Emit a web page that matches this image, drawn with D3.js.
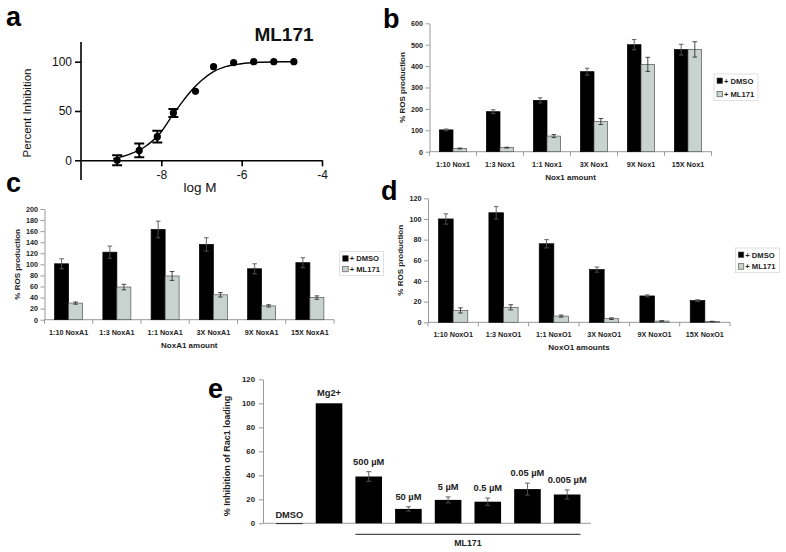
<!DOCTYPE html>
<html>
<head>
<meta charset="utf-8">
<script src="https://cdn.jsdelivr.net/npm/d3@7"></script>
<style>
  body { margin: 0; background: #fff; }
  svg { display: block; font-family: "Liberation Sans", Arial, sans-serif; }
</style>
</head>
<body>
<script>
// panel a: dose response
const logM = [-9.1, -8.55, -8.1, -7.7, -7.15, -6.7, -6.2, -5.7, -5.2, -4.7];
const inhibition = [0, 10, 24, 48, 70, 95, 99, 100, 100, 100];
const inhibitionErr = [5, 7, 6, 4, 0, 0, 0, 0, 0, 0];
const fitLogM = [-9.2, -8.8, -8.4, -8.0, -7.75, -7.5, -7.2, -7.0, -6.7, -6.4, -6.0, -5.5, -5.0, -4.7];
const fitInhib = [1.5, 6, 14, 29, 44, 58, 73, 81, 90, 95, 98, 99.5, 100, 100];
const aTicksX = [-8, -6, -4];
const aTicksY = [0, 50, 100];

// panel b
const nox1Cats = ["1:10 Nox1", "1:3 Nox1", "1:1 Nox1", "3X Nox1", "9X Nox1", "15X Nox1"];
const nox1Dmso = [102, 187, 240, 374, 500, 477];
const nox1DmsoErr = [4, 9, 12, 16, 24, 25];
const nox1Ml = [15, 19, 73, 141, 408, 478];
const nox1MlErr = [2, 2, 7, 14, 33, 36];
const bTicks = [0, 100, 200, 300, 400, 500, 600];

// panel c
const noxa1Cats = ["1:10 NoxA1", "1:3 NoxA1", "1:1 NoxA1", "3X NoxA1", "9X NoxA1", "15X NoxA1"];
const noxa1Dmso = [101, 122, 163, 136, 92, 103];
const noxa1DmsoErr = [9, 11, 15, 12, 9, 9];
const noxa1Ml = [30, 59, 79, 45, 25, 40];
const noxa1MlErr = [2, 5, 8, 4, 2, 3];
const cTicks = [0, 20, 40, 60, 80, 100, 120, 140, 160, 180, 200];

// panel d
const noxo1Cats = ["1:10 NoxO1", "1:3 NoxO1", "1:1 NoxO1", "3X NoxO1", "9X NoxO1", "15X NoxO1"];
const noxo1Dmso = [100, 106, 76, 51, 25.5, 21];
const noxo1DmsoErr = [5, 6, 4, 2.5, 1, 0.8];
const noxo1Ml = [11.5, 14.5, 6, 3.5, 1.2, 0.8];
const noxo1MlErr = [2.5, 2.5, 1, 0.8, 0.3, 0.2];
const dTicks = [0, 20, 40, 60, 80, 100, 120];

// panel e
const racCats = ["DMSO", "Mg2+", "500 µM", "50 µM", "5 µM", "0.5 µM", "0.05 µM", "0.005 µM"];
const racLoad = [0, 100, 39, 12, 19.5, 18, 28.5, 24];
const racErr = [0, 0, 4, 1.8, 2.5, 3, 5, 3.8];
const eTicks = [0, 20, 40, 60, 80, 100, 120];

const legendNames = ["+ DMSO", "+ ML171"];
const barColors = ["#000", "#c8d3d0"];

const svg = d3
  .select("body")
  .append("svg")
  .attr("width", 786)
  .attr("height", 552);

svg.append("rect").attr("width", 786).attr("height", 552).attr("fill", "#fff");

const panelLetter = (txt, x, y) => {
  svg
    .append("text")
    .attr("x", x)
    .attr("y", y)
    .attr("font-size", 27)
    .attr("font-weight", "bold")
    .text(txt);
};

// ---------- panel a ----------
const drawDoseResponse = () => {
  const x = d3.scaleLinear().domain([-10, -4]).range([81, 322]);
  const y = d3.scaleLinear().domain([-20, 120]).range([180, 42]);
  const g = svg.append("g");

  const yAxis = g
    .append("g")
    .attr("transform", `translate(${x(-10)},0)`)
    .call(d3.axisLeft(y).tickValues(aTicksY).tickSize(6).tickPadding(3).tickSizeOuter(0));
  const xAxis = g
    .append("g")
    .attr("transform", `translate(0,${y(0)})`)
    .call(
      d3.axisBottom(x)
        .tickValues(aTicksX)
        .tickFormat((d) => d.toString())
        .tickSize(6)
        .tickPadding(4)
        .tickSizeOuter(0)
    );

  [yAxis, xAxis].forEach((ax) => {
    ax.select(".domain").attr("stroke", "#000").attr("stroke-width", 1.6);
    ax.selectAll(".tick line").attr("stroke", "#000").attr("stroke-width", 1.6);
    ax.selectAll(".tick text")
      .attr("font-size", 12)
      .attr("fill", "#111")
      .attr("font-family", "Liberation Sans, Arial, sans-serif");
  });
  // y axis spans full domain incl. below zero
  yAxis.select(".domain").attr("d", `M0,${y(-20)}V${y(120)}`);

  const line = d3
    .line()
    .x((d, i) => x(fitLogM[i]))
    .y((d) => y(d))
    .curve(d3.curveMonotoneX);
  g.append("path")
    .attr("d", line(fitInhib))
    .attr("fill", "none")
    .attr("stroke", "#000")
    .attr("stroke-width", 1.4);

  logM.forEach((lm, i) => {
    const e = inhibitionErr[i];
    if (e > 0) {
      const cx = x(lm);
      g.append("path")
        .attr(
          "d",
          `M${cx},${y(inhibition[i] - e)}V${y(inhibition[i] + e)}` +
            `M${cx - 5},${y(inhibition[i] - e)}H${cx + 5}` +
            `M${cx - 5},${y(inhibition[i] + e)}H${cx + 5}`
        )
        .attr("stroke", "#000")
        .attr("stroke-width", 2);
    }
  });

  g.selectAll("circle.pt")
    .data(inhibition)
    .enter()
    .append("circle")
    .attr("class", "pt")
    .attr("cx", (d, i) => x(logM[i]))
    .attr("cy", (d) => y(d))
    .attr("r", 3.6)
    .attr("fill", "#000");

  g.append("text")
    .attr("transform", "translate(31,113) rotate(-90)")
    .attr("text-anchor", "middle")
    .attr("font-size", 11.5)
    .attr("fill", "#111")
    .text("Percent Inhibition");
  g.append("text")
    .attr("x", 200)
    .attr("y", 192)
    .attr("text-anchor", "middle")
    .attr("font-size", 13.5)
    .attr("fill", "#111")
    .text("log M");
  g.append("text")
    .attr("x", 284)
    .attr("y", 41)
    .attr("text-anchor", "middle")
    .attr("font-size", 19)
    .attr("font-weight", "bold")
    .attr("fill", "#111")
    .text("ML171");
};

// ---------- grouped bar panels b, c, d ----------
const styleExcelAxis = (ax) => {
  ax.select(".domain").attr("stroke", "#999").attr("stroke-width", 1);
  ax.selectAll(".tick line").attr("stroke", "#999");
  ax.selectAll(".tick text")
    .attr("font-size", 7.2)
    .attr("font-weight", "bold")
    .attr("fill", "#222")
    .attr("font-family", "Liberation Sans, Arial, sans-serif");
};

const errorBar = (g, cx, top, bottom, half, color) => {
  g.append("path")
    .attr("d", `M${cx},${bottom}V${top}M${cx - half},${top}H${cx + half}M${cx - half},${bottom}H${cx + half}`)
    .attr("stroke", color)
    .attr("stroke-width", 0.9)
    .attr("fill", "none");
};

const drawGroupedBars = (cfg) => {
  const g = svg.append("g");
  const x = d3.scaleBand().domain(cfg.cats).range(cfg.xr);
  const y = d3.scaleLinear().domain([0, cfg.ticks[cfg.ticks.length - 1]]).range(cfg.yr);
  const barW = x.bandwidth() * 0.29;

  const yAxis = g
    .append("g")
    .attr("transform", `translate(${cfg.xr[0]},0)`)
    .call(d3.axisLeft(y).tickValues(cfg.ticks).tickSize(4).tickPadding(2.5).tickSizeOuter(0));
  styleExcelAxis(yAxis);

  // category axis with boundary ticks
  g.append("line")
    .attr("x1", cfg.xr[0])
    .attr("x2", cfg.xr[1])
    .attr("y1", y(0))
    .attr("y2", y(0))
    .attr("stroke", "#999");
  d3.range(cfg.cats.length + 1).forEach((i) => {
    const bx = cfg.xr[0] + i * x.step();
    g.append("line")
      .attr("x1", bx)
      .attr("x2", bx)
      .attr("y1", y(0))
      .attr("y2", y(0) + 4)
      .attr("stroke", "#999");
  });

  const series = [
    { vals: cfg.dmso, errs: cfg.dmsoErr },
    { vals: cfg.ml, errs: cfg.mlErr },
  ];
  series.forEach((s, si) => {
    g.selectAll(`rect.s${si}`)
      .data(s.vals)
      .enter()
      .append("rect")
      .attr("class", `s${si}`)
      .attr("x", (d, i) => x(cfg.cats[i]) + x.bandwidth() / 2 - barW + si * barW)
      .attr("y", (d) => y(d))
      .attr("width", barW)
      .attr("height", (d) => y(0) - y(d))
      .attr("fill", barColors[si])
      .attr("stroke", si ? "#555" : "#000")
      .attr("stroke-width", 0.7);
    s.vals.forEach((v, i) => {
      const cx = x(cfg.cats[i]) + x.bandwidth() / 2 - barW / 2 + si * barW;
      errorBar(g, cx, y(v + s.errs[i]), y(v - s.errs[i]), 2.3, si ? "#333" : "#555");
    });
  });

  g.selectAll("text.cat")
    .data(cfg.cats)
    .enter()
    .append("text")
    .attr("class", "cat")
    .attr("x", (d) => x(d) + x.bandwidth() / 2)
    .attr("y", y(0) + 15)
    .attr("text-anchor", "middle")
    .attr("font-size", 7.2)
    .attr("font-weight", "bold")
    .attr("fill", "#222")
    .text((d) => d);

  g.append("text")
    .attr("x", (cfg.xr[0] + cfg.xr[1]) / 2)
    .attr("y", y(0) + 28)
    .attr("text-anchor", "middle")
    .attr("font-size", 8)
    .attr("font-weight", "bold")
    .attr("fill", "#222")
    .text(cfg.xTitle);

  g.append("text")
    .attr("transform", `translate(${cfg.xr[0] - 25},${(cfg.yr[0] + cfg.yr[1]) / 2}) rotate(-90)`)
    .attr("text-anchor", "middle")
    .attr("font-size", 8)
    .attr("font-weight", "bold")
    .attr("fill", "#222")
    .text("% ROS production");

  // legend
  const lg = g.append("g").attr("transform", `translate(${cfg.legend[0]},${cfg.legend[1]})`);
  lg.append("rect")
    .attr("x", -3)
    .attr("y", -7)
    .attr("width", 44)
    .attr("height", cfg.legend[2] + 13)
    .attr("fill", "none")
    .attr("stroke", "#ccc")
    .attr("stroke-width", 0.6);
  legendNames.forEach((name, i) => {
    lg.append("rect")
      .attr("x", 0)
      .attr("y", i * cfg.legend[2] - 3)
      .attr("width", 5.5)
      .attr("height", 5.5)
      .attr("fill", barColors[i])
      .attr("stroke", "#444")
      .attr("stroke-width", 0.6);
    lg.append("text")
      .attr("x", 7)
      .attr("y", i * cfg.legend[2] + 2.7)
      .attr("font-size", 7.6)
      .attr("font-weight", "bold")
      .attr("fill", "#222")
      .text(name);
  });
};

// ---------- panel e ----------
const drawRacPanel = () => {
  const g = svg.append("g");
  const x = d3.scaleBand().domain(racCats).range([269.5, 587]).paddingInner(0.33).paddingOuter(0.165);
  const y = d3.scaleLinear().domain([0, 120]).range([523.3, 379.3]);

  const yAxis = g
    .append("g")
    .attr("transform", "translate(263,0)")
    .call(d3.axisLeft(y).tickValues(eTicks).tickSize(4).tickPadding(4).tickSizeOuter(0));
  styleExcelAxis(yAxis);
  yAxis.selectAll(".tick text").attr("font-size", 7.8);

  g.append("line")
    .attr("x1", 263)
    .attr("x2", 591)
    .attr("y1", y(0))
    .attr("y2", y(0))
    .attr("stroke", "#999");

  g.selectAll("rect.rac")
    .data(racLoad)
    .enter()
    .append("rect")
    .attr("class", "rac")
    .attr("x", (d, i) => x(racCats[i]))
    .attr("y", (d) => y(d))
    .attr("width", x.bandwidth())
    .attr("height", (d) => Math.max(0.8, y(0) - y(d)))
    .attr("fill", "#000");

  racLoad.forEach((v, i) => {
    if (racErr[i] > 0) {
      const cx = x(racCats[i]) + x.bandwidth() / 2;
      errorBar(g, cx, y(v + racErr[i]), y(v - racErr[i]), 2.5, "#555");
    }
  });

  g.selectAll("text.rl")
    .data(racCats)
    .enter()
    .append("text")
    .attr("class", "rl")
    .attr("x", (d) => x(d) + x.bandwidth() / 2)
    .attr("y", (d, i) => y(racLoad[i] + racErr[i]) - (i === 0 ? 5 : 7))
    .attr("text-anchor", "middle")
    .attr("font-size", 9.3)
    .attr("font-weight", "bold")
    .attr("fill", "#222")
    .text((d) => d);

  const x0 = x(racCats[2]);
  const x1 = x(racCats[racCats.length - 1]) + x.bandwidth();
  g.append("line")
    .attr("x1", x0)
    .attr("x2", x1)
    .attr("y1", 534.3)
    .attr("y2", 534.3)
    .attr("stroke", "#222")
    .attr("stroke-width", 1);
  g.append("text")
    .attr("x", (x0 + x1) / 2)
    .attr("y", 545.5)
    .attr("text-anchor", "middle")
    .attr("font-size", 8.8)
    .attr("font-weight", "bold")
    .attr("fill", "#222")
    .text("ML171");

  g.append("text")
    .attr("transform", "translate(230,456) rotate(-90)")
    .attr("text-anchor", "middle")
    .attr("font-size", 9)
    .attr("font-weight", "bold")
    .attr("fill", "#222")
    .text("% Inhibition of Rac1 loading");
};

drawDoseResponse();
drawGroupedBars({
  cats: nox1Cats, dmso: nox1Dmso, dmsoErr: nox1DmsoErr, ml: nox1Ml, mlErr: nox1MlErr,
  ticks: bTicks, xr: [429.5, 711.5], yr: [151.7, 23.3], xTitle: "Nox1 amount",
  legend: [717, 81, 13.3],
});
drawGroupedBars({
  cats: noxa1Cats, dmso: noxa1Dmso, dmsoErr: noxa1DmsoErr, ml: noxa1Ml, mlErr: noxa1MlErr,
  ticks: cTicks, xr: [44.5, 334], yr: [319.7, 209], xTitle: "NoxA1 amount",
  legend: [342.7, 258.7, 10.6],
});
drawGroupedBars({
  cats: noxo1Cats, dmso: noxo1Dmso, dmsoErr: noxo1DmsoErr, ml: noxo1Ml, mlErr: noxo1MlErr,
  ticks: dTicks, xr: [428, 730], yr: [322.3, 198.3], xTitle: "NoxO1 amounts",
  legend: [738.3, 255, 11.7],
});
drawRacPanel();

panelLetter("a", 6, 26);
panelLetter("b", 383, 28);
panelLetter("c", 6, 192);
panelLetter("d", 381, 200);
panelLetter("e", 208, 398);
</script>
</body>
</html>
